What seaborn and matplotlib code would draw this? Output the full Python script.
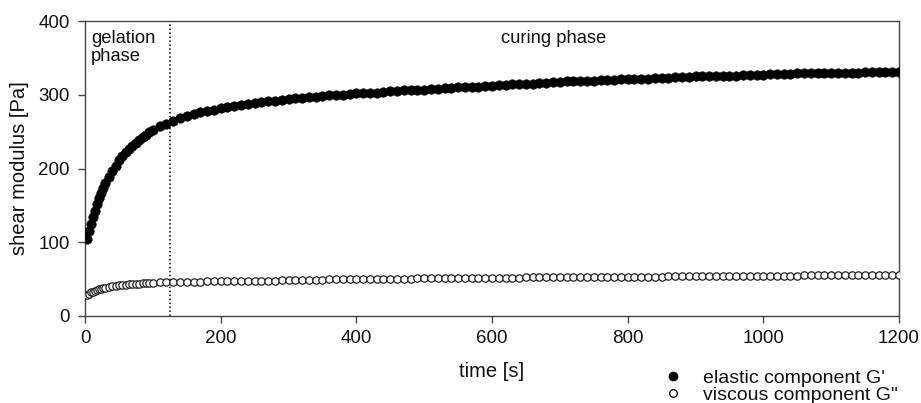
import numpy as np
import pandas as pd
import matplotlib
matplotlib.use("Agg")
import matplotlib.pyplot as plt
import seaborn as sns
from matplotlib.lines import Line2D

sns.set_style("ticks")
plt.rcParams['font.family'] = ['Liberation Sans', 'DejaVu Sans']

time_s = [3, 6, 9, 12, 15, 18, 21, 24, 27, 30,
          35, 40, 45, 50, 55, 60, 65, 70, 75, 80, 85, 90, 95,
          100, 110, 120, 130, 140, 150, 160, 170, 180, 190, 200,
          210, 220, 230, 240, 250, 260, 270, 280, 290, 300,
          310, 320, 330, 340, 350, 360, 370, 380, 390, 400,
          410, 420, 430, 440, 450, 460, 470, 480, 490, 500,
          510, 520, 530, 540, 550, 560, 570, 580, 590, 600,
          610, 620, 630, 640, 650, 660, 670, 680, 690, 700,
          710, 720, 730, 740, 750, 760, 770, 780, 790, 800,
          810, 820, 830, 840, 850, 860, 870, 880, 890, 900,
          910, 920, 930, 940, 950, 960, 970, 980, 990, 1000,
          1010, 1020, 1030, 1040, 1050, 1060, 1070, 1080, 1090, 1100,
          1110, 1120, 1130, 1140, 1150, 1160, 1170, 1180, 1190, 1200]

elastic_G1 = [105, 115, 125, 134, 143, 152, 160, 167, 174, 180,
              189, 197, 204, 211, 217, 222, 227, 231, 235, 239, 243, 246, 249,
              252, 257, 261, 265, 268, 271, 274, 276, 278, 280, 282,
              283, 285, 286, 288, 289, 290, 291, 292, 293, 294,
              295, 296, 297, 297, 298, 299, 300, 300, 301, 302,
              302, 303, 303, 304, 305, 305, 306, 306, 307, 307,
              308, 308, 309, 309, 310, 310, 311, 311, 312, 312,
              313, 313, 314, 314, 315, 315, 316, 316, 317, 317,
              318, 318, 318, 319, 319, 320, 320, 320, 321, 321,
              322, 322, 322, 323, 323, 323, 324, 324, 324, 325,
              325, 325, 326, 326, 326, 326, 327, 327, 327, 327,
              328, 328, 328, 328, 329, 329, 329, 329, 329, 330,
              330, 330, 330, 330, 331, 331, 331, 331, 331, 331]

viscous_G2 = [28, 30, 32, 33, 34, 35, 36, 37, 38, 38.5,
              39.5, 40.5, 41, 41.5, 42, 42.5, 43, 43.5, 44, 44, 44.5, 44.5, 45,
              45, 45.5, 46, 46, 46, 46.5, 46.5, 46.5, 47, 47, 47,
              47, 47.5, 47.5, 47.5, 48, 48, 48, 48, 48.5, 48.5,
              48.5, 49, 49, 49, 49, 49.5, 49.5, 49.5, 49.5, 50,
              50, 50, 50, 50.5, 50.5, 50.5, 50.5, 50.5, 51, 51,
              51, 51, 51, 51.5, 51.5, 51.5, 51.5, 51.5, 52, 52,
              52, 52, 52, 52, 52.5, 52.5, 52.5, 52.5, 52.5, 52.5,
              53, 53, 53, 53, 53, 53, 53, 53, 53.5, 53.5,
              53.5, 53.5, 53.5, 53.5, 53.5, 54, 54, 54, 54, 54,
              54, 54, 54, 54, 54, 54, 54.5, 54.5, 54.5, 54.5,
              54.5, 54.5, 54.5, 54.5, 54.5, 55, 55, 55, 55, 55,
              55, 55, 55, 55, 55, 55, 55, 55, 55, 55]

phase_boundary = 125

df = pd.DataFrame({"time": time_s, "G1": elastic_G1, "G2": viscous_G2})

W, H = 921, 403
fig = plt.figure(figsize=(W / 100, H / 100), dpi=100)
ax = fig.add_axes([85 / W, 1 - 316 / H, (899 - 85) / W, (316 - 21) / H])

sns.scatterplot(data=df, x="time", y="G1", ax=ax, color="black", s=48,
                edgecolor="black", linewidth=0.3, zorder=3)
sns.scatterplot(data=df, x="time", y="G2", ax=ax, facecolor="white", s=28,
                edgecolor="#222222", linewidth=0.9, zorder=3)

ax.axvline(phase_boundary, color="black", linestyle=(0, (1, 1.6)), linewidth=1.1, zorder=1)

ax.set_xlim(0, 1200)
ax.set_ylim(0, 400)
ax.set_xticks([0, 200, 400, 600, 800, 1000, 1200])
ax.set_yticks([0, 100, 200, 300, 400])
ax.tick_params(axis="both", labelsize=13.5, length=5, width=1, color="#444444",
               labelcolor="#111111", direction="out")
ax.tick_params(axis="x", pad=5)
ax.tick_params(axis="y", pad=6)
for sp in ax.spines.values():
    sp.set_color("#444444")
    sp.set_linewidth(1)
ax.set_xlabel("time [s]", fontsize=14.5, color="#111111")
ax.set_ylabel("shear modulus [Pa]", fontsize=14.5, color="#111111")
ax.xaxis.set_label_coords(0.5, (316 - 362) / 295)
ax.yaxis.set_label_coords((29 - 85) / 814, 0.5)

ax.text(9, 388, "gelation\nphase", fontsize=13.2, va="top", ha="left",
        linespacing=1.1, color="#111111")
ax.text(691, 388, "curing phase", fontsize=13.2, va="top", ha="center", color="#111111")

handles = [Line2D([0], [0], marker="o", linestyle="none", markerfacecolor="black",
                  markeredgecolor="black", markersize=6),
           Line2D([0], [0], marker="o", linestyle="none", markerfacecolor="white",
                  markeredgecolor="black", markersize=5.5, markeredgewidth=0.9)]
fig.legend(handles, ["elastic component G'", "viscous component G\""],
           loc="upper left", bbox_to_anchor=(658 / W, 1 - 369 / H), frameon=False,
           fontsize=14, handlelength=1.5, handletextpad=0.8, labelspacing=0.0,
           borderpad=0, borderaxespad=0, labelcolor="#111111")

fig.savefig("out.png", dpi=100)
